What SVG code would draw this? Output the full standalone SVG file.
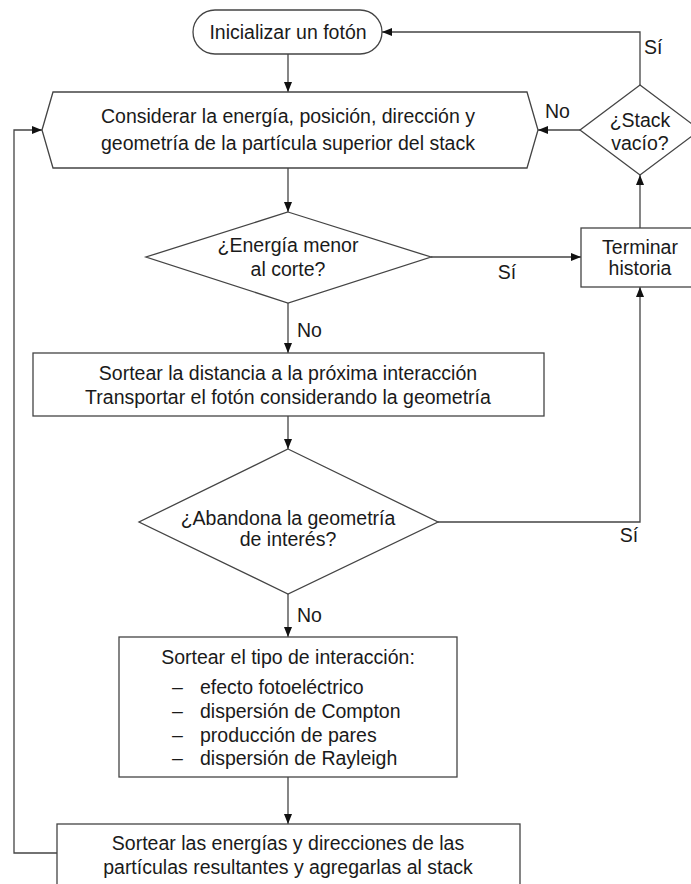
<svg xmlns="http://www.w3.org/2000/svg" width="691" height="884" viewBox="0 0 691 884">
<defs>
<marker id="arr" viewBox="0 0 10 8" refX="10" refY="4" markerWidth="10" markerHeight="8" markerUnits="userSpaceOnUse" orient="auto">
<path d="M0,0 L10,4 L0,8 z" fill="#111"/>
</marker>
<style>
.shape{fill:#fff;stroke:#444;stroke-width:1.3}
.conn{fill:none;stroke:#444;stroke-width:1.3}
text{font-family:"Liberation Sans",Arial,Helvetica,sans-serif;font-size:19.5px;fill:#1a1a1a}
.c{text-anchor:middle}
</style>
</defs>
<rect width="691" height="884" fill="#fff"/>
<g id="connectors">
<line class="conn" x1="288" y1="54" x2="288" y2="92" marker-end="url(#arr)"/>
<line class="conn" x1="288" y1="168" x2="288" y2="212" marker-end="url(#arr)"/>
<line class="conn" x1="288" y1="303" x2="288" y2="353" marker-end="url(#arr)"/>
<line class="conn" x1="288" y1="416" x2="288" y2="449" marker-end="url(#arr)"/>
<line class="conn" x1="288" y1="594" x2="288" y2="637" marker-end="url(#arr)"/>
<line class="conn" x1="288" y1="777" x2="288" y2="824" marker-end="url(#arr)"/>
<line class="conn" x1="431" y1="257" x2="581" y2="257" marker-end="url(#arr)"/>
<polyline class="conn" points="438,522 640,522 640,287" marker-end="url(#arr)"/>
<line class="conn" x1="640" y1="228" x2="640" y2="175" marker-end="url(#arr)"/>
<polyline class="conn" points="640,85 640,32 382,32" marker-end="url(#arr)"/>
<line class="conn" x1="580" y1="130" x2="538" y2="130" marker-end="url(#arr)"/>
<polyline class="conn" points="57,853 14,853 14,130 42,130" marker-end="url(#arr)"/>
<text x="644" y="54">Sí</text>
<text x="545" y="118">No</text>
<text x="507" y="279" class="c">Sí</text>
<text x="297" y="337">No</text>
<text x="629" y="542" class="c">Sí</text>
<text x="297" y="622">No</text>
</g>
<g id="start">
<rect class="shape" x="193" y="10" width="189" height="44" rx="22" ry="22"/>
<text x="288" y="39" class="c">Inicializar un fotón</text>
</g>
<g id="consider">
<polygon class="shape" points="42,130 53,92 527,92 538,130 527,168 53,168"/>
<text x="288" y="123" class="c">Considerar la energía, posición, dirección y</text>
<text x="288" y="150" class="c">geometría de la partícula superior del stack</text>
</g>
<g id="stack-empty">
<polygon class="shape" points="640,85 700,130 640,175 580,130"/>
<text x="640" y="127" class="c">¿Stack</text>
<text x="640" y="150" class="c">vacío?</text>
</g>
<g id="energy-cut">
<polygon class="shape" points="288,212 431,257 288,303 146,257"/>
<text x="288" y="252" class="c">¿Energía menor</text>
<text x="288" y="276" class="c">al corte?</text>
</g>
<g id="terminate">
<rect class="shape" x="581" y="228" width="118" height="59"/>
<text x="640" y="254" class="c">Terminar</text>
<text x="640" y="275" class="c">historia</text>
</g>
<g id="distance">
<rect class="shape" x="33" y="353" width="511" height="63"/>
<text x="288" y="380" class="c">Sortear la distancia a la próxima interacción</text>
<text x="288" y="404" class="c">Transportar el fotón considerando la geometría</text>
</g>
<g id="leaves">
<polygon class="shape" points="288,449 438,522 288,594 139,522"/>
<text x="288" y="525" class="c">¿Abandona la geometría</text>
<text x="288" y="546" class="c">de interés?</text>
</g>
<g id="interaction">
<rect class="shape" x="119" y="637" width="338" height="140"/>
<text x="288" y="664" class="c">Sortear el tipo de interacción:</text>
<text x="172" y="694">–</text><text x="200" y="694">efecto fotoeléctrico</text>
<text x="172" y="718">–</text><text x="200" y="718">dispersión de Compton</text>
<text x="172" y="742">–</text><text x="200" y="742">producción de pares</text>
<text x="172" y="765">–</text><text x="200" y="765">dispersión de Rayleigh</text>
</g>
<g id="resulting">
<rect class="shape" x="57" y="824" width="463" height="80"/>
<text x="288" y="850" class="c">Sortear las energías y direcciones de las</text>
<text x="288" y="874" class="c">partículas resultantes y agregarlas al stack</text>
</g>
</svg>
